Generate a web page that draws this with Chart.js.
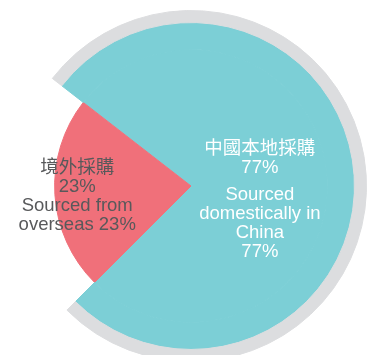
<!DOCTYPE html>
<html>
<head>
<meta charset="utf-8">
<script src="https://cdn.jsdelivr.net/npm/chart.js@4/dist/chart.umd.min.js"></script>
<style>
  html, body { margin: 0; padding: 0; background: #fff; overflow: hidden; }
  body { width: 367px; height: 355px; position: relative; }
  #pie { position: absolute; left: 15px; top: 10px; }
</style>
</head>
<body>
<canvas id="pie" width="352" height="352"></canvas>
<script>
// Data
const categories = ['中國本地採購', '境外採購'];
const categoriesEn = ['Sourced domestically in China', 'Sourced from overseas'];
const shares = [77, 23];

// Text blocks shown in each slice (line breaks as in the picture)
const labelLines = [
  [categories[0], shares[0] + '%', null, 'Sourced', 'domestically in', 'China', shares[0] + '%'],
  [categories[1], shares[1] + '%', 'Sourced from', 'overseas ' + shares[1] + '%']
];

const TEAL = '#7ccfd6';
const RED = '#f0707a';
const GRAY = '#dcdddf';
const NONE = 'rgba(0,0,0,0)';

// Draws the text blocks inside the slices of the innermost ring
const sliceLabels = {
  id: 'sliceLabels',
  afterDatasetsDraw(chart, args, opts) {
    const meta = chart.getDatasetMeta(chart.data.datasets.length - 1);
    const ctx = chart.ctx;
    ctx.save();
    ctx.font = opts.font;
    ctx.textAlign = 'center';
    ctx.textBaseline = 'middle';
    meta.data.forEach((arc, i) => {
      const p = opts.place[i];
      const mid = (arc.startAngle + arc.endAngle) / 2;
      const x = arc.x + Math.cos(mid) * p.r;
      const y = arc.y + Math.sin(mid) * p.r + p.dy;
      const lines = labelLines[i];
      let h = 0;
      lines.forEach(l => h += l === null ? opts.gap : opts.lineHeight);
      let cy = y - h / 2 + opts.lineHeight / 2;
      ctx.fillStyle = opts.colors[i];
      lines.forEach(l => {
        if (l === null) { cy += opts.gap; return; }
        ctx.fillText(l, x, cy);
        cy += opts.lineHeight;
      });
    });
    ctx.restore();
  }
};

new Chart(document.getElementById('pie'), {
  type: 'pie',
  data: {
    labels: categoriesEn,
    datasets: [
      { data: shares, weight: 12, backgroundColor: [GRAY, NONE], borderColor: [GRAY, NONE], borderWidth: 1 },
      { data: shares, weight: 27, backgroundColor: [TEAL, NONE], borderColor: [TEAL, NONE], borderWidth: 1 },
      { data: shares, weight: 136, backgroundColor: [TEAL, RED], borderColor: [TEAL, RED], borderWidth: 1 }
    ]
  },
  plugins: [sliceLabels],
  options: {
    responsive: false,
    animation: false,
    rotation: 307.8,
    hoverBorderWidth: 1,
    layout: { padding: 0 },
    plugins: {
      legend: { display: false },
      tooltip: { enabled: false },
      sliceLabels: {
        font: '18.5px "Liberation Sans", "Noto Sans CJK TC", sans-serif',
        lineHeight: 19,
        gap: 8,
        colors: ['#ffffff', '#58595b'],
        place: [{ r: 69, dy: 19 }, { r: 114, dy: 3 }]
      }
    }
  }
});
</script>
</body>
</html>
